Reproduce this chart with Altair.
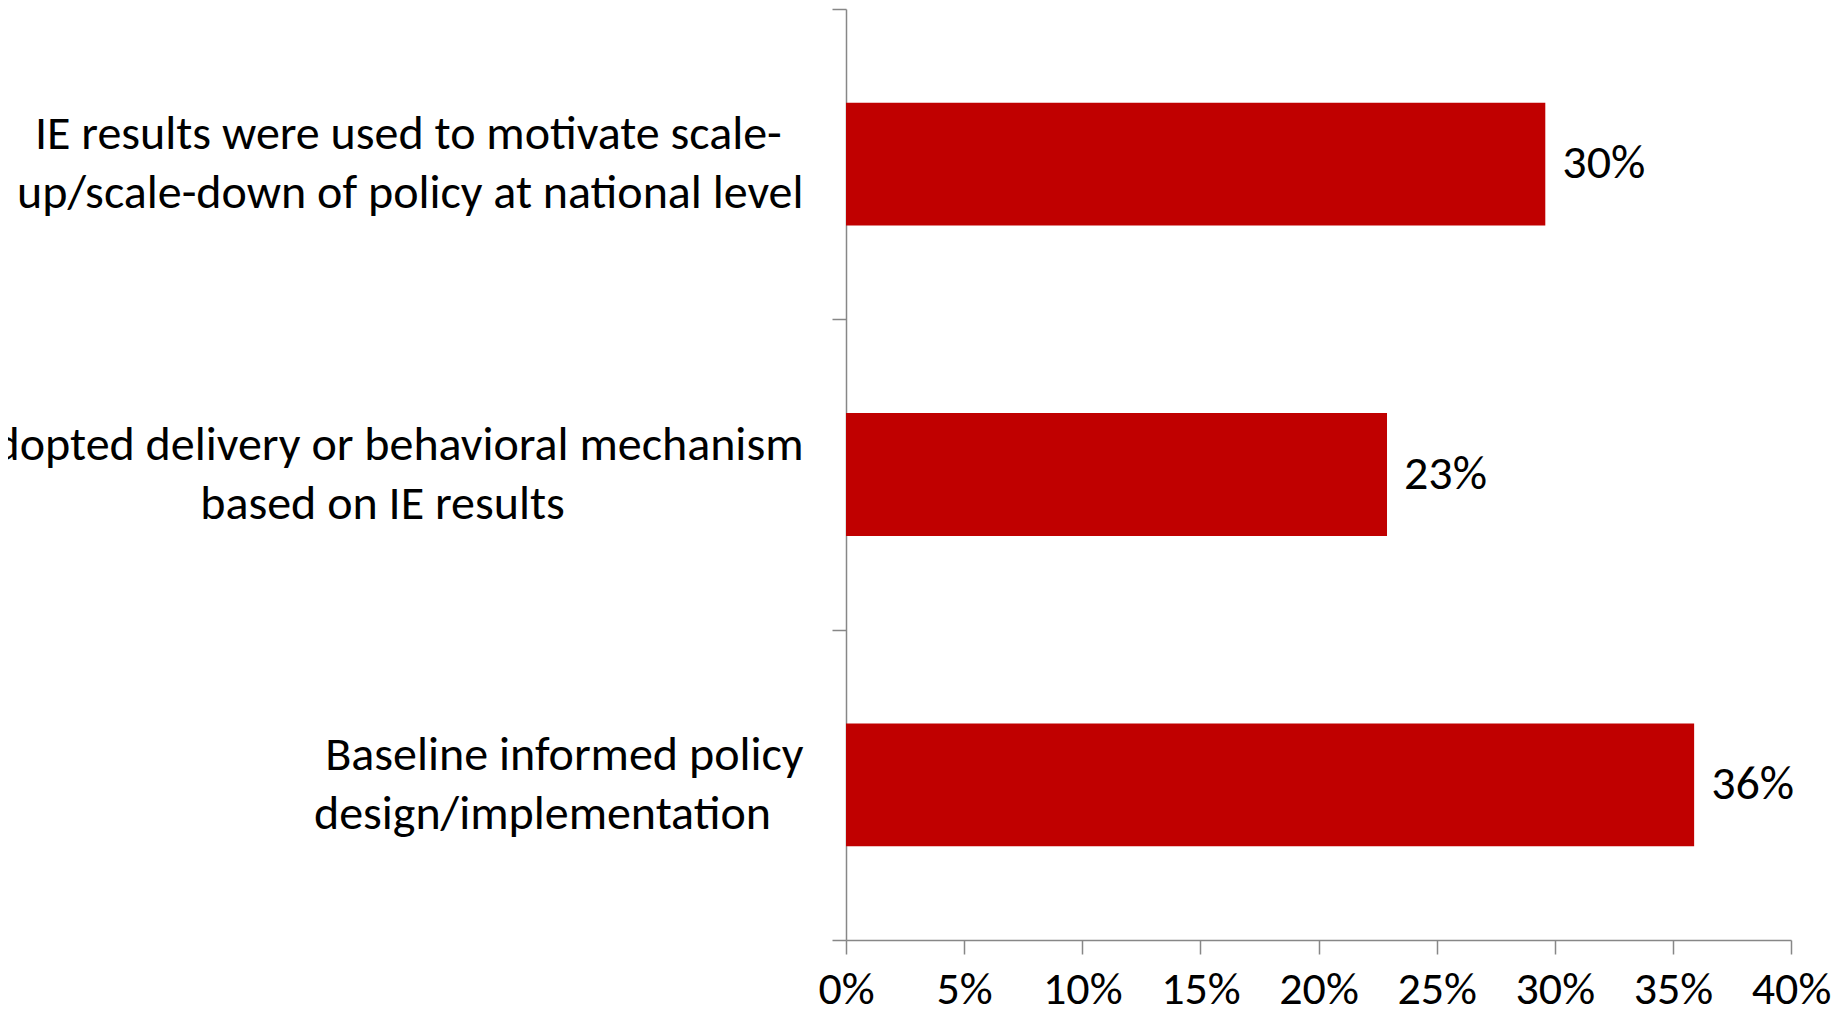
import altair as alt
import pandas as pd

# ---- data ----
categories = [
    "IE results were used to motivate scale-|up/scale-down of policy at national level",
    "Adopted delivery or behavioral mechanism|based on IE results",
    "Baseline informed policy|design/implementation",
]
shares = [0.296, 0.229, 0.359]
x_ticks = [0.0, 0.05, 0.10, 0.15, 0.20, 0.25, 0.30, 0.35, 0.40]

NBSP = "\u00a0"
ZWSP = "\u200b"  # keeps the trailing no-break spaces from being trimmed


def centred_lines(label):
    """Right-aligned lines; the shorter line gets trailing no-break spaces so it
    sits roughly centred under the longer one (as in the original)."""
    lines = label.split("|")
    m = max(len(s) for s in lines)
    out = []
    for s in lines:
        k = round(1.05 * (m - len(s)))
        out.append(s + NBSP * k + (ZWSP if k else ""))
    return "|".join(out)


display = [centred_lines(c) for c in categories]
df = pd.DataFrame({"category": display, "share": shares})

FONT = "Carlito, Lato, sans-serif"
GRAY = "#878787"
BAR = "#C00000"
FS = 48

x_enc = alt.X(
    "share:Q",
    title=None,
    scale=alt.Scale(domain=[0, 0.4], nice=False, zero=True),
    axis=alt.Axis(
        values=x_ticks,
        format=".0%",
        labelFont=FONT,
        labelFontSize=46,
        labelColor="black",
        labelPadding=13,
        labelFlush=False,
        labelOverlap=False,
        tickSize=14,
        tickColor=GRAY,
        tickWidth=1.5,
        domainColor=GRAY,
        domainWidth=1.5,
        grid=False,
    ),
)

# bars: band scale with padding so each bar fills ~40% of its slot
bars = alt.Chart(df).mark_bar(color=BAR).encode(
    x=x_enc,
    y=alt.Y(
        "category:N",
        sort=display,
        title=None,
        scale=alt.Scale(paddingInner=0.604, paddingOuter=0.302),
        axis=None,
    ),
)

# value labels: same band centres; the unpadded scale carries the category axis
labels = alt.Chart(df).mark_text(
    align="left", baseline="middle", dx=17, font=FONT, fontSize=FS, color="black"
).encode(
    x=alt.X("share:Q"),
    y=alt.Y(
        "category:N",
        sort=display,
        title=None,
        scale=alt.Scale(paddingInner=0, paddingOuter=0),
        axis=alt.Axis(
            labelExpr="split(datum.label, '|')",
            labelAlign="right",
            labelBaseline="middle",
            labelFont=FONT,
            labelFontSize=FS,
            labelColor="black",
            labelLineHeight=59,
            labelOffset=-29.5,
            labelPadding=29,
            labelLimit=0,
            tickBand="extent",
            tickSize=14,
            tickColor=GRAY,
            tickWidth=1.5,
            domainColor=GRAY,
            domainWidth=1.5,
            grid=False,
        ),
    ),
    text=alt.Text("share:Q", format=".0%"),
)

chart = (
    alt.layer(bars, labels)
    .resolve_scale(y="independent")
    .properties(
        width=945,
        height=931,
        background="white",
        autosize=alt.AutoSizeParams(type="none"),
        padding={"left": 838, "top": 1, "right": 42, "bottom": 72},
    )
    .configure_view(stroke=None)
)

chart.save("out.html", embed_options={"renderer": "svg", "actions": False})
